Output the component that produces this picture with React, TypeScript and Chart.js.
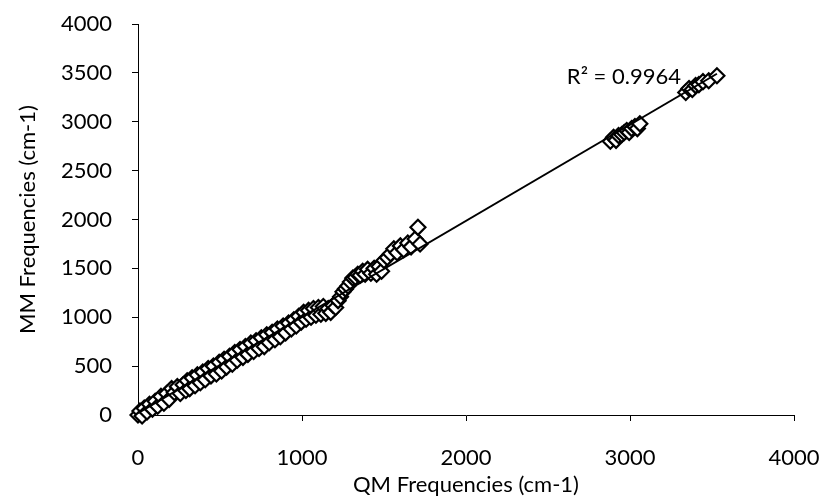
import { useEffect, useRef } from "react";
import { Chart, registerables } from "chart.js";

Chart.register(...registerables);

// QM (x) vs MM (y) vibrational frequencies, cm-1
const qmFreq = [
  0, 12, 25, 38, 55, 70, 88, 105, 120, 140, 158, 175, 190, 205, 222, 240, 258, 275, 292,
  300, 315, 330, 348, 362, 380, 395, 410, 428, 445, 460, 478, 495, 510, 525, 540, 558, 575,
  590, 605, 622, 640, 655, 670, 688, 705, 720, 738, 752, 770, 785, 800, 818, 835, 850, 868,
  885, 900, 918, 935, 950, 965, 980, 995,
  1010, 1025, 1040, 1055, 1070, 1085, 1100, 1115, 1130, 1145, 1160, 1175, 1190, 1205, 1220,
  1235, 1250, 1265, 1280, 1295,
  1310, 1325, 1340, 1355, 1370, 1385, 1400, 1420, 1440, 1455, 1470, 1485, 1500, 1520, 1540,
  1560, 1580, 1600, 1620, 1645, 1665, 1690, 1707, 1720,
  2880, 2900, 2915, 2930, 2950, 2965, 2980, 2995, 3010, 3030, 3045, 3060,
  3340, 3360, 3380, 3400, 3420, 3445, 3480, 3530,
];
const mmFreq = [
  0, 40, -10, 70, 30, 110, 60, 140, 90, 190, 120, 220, 160, 270, 230, 290, 220, 310, 250,
  350, 270, 380, 300, 410, 330, 440, 360, 475, 400, 500, 420, 540, 450, 570, 490, 600, 520,
  640, 560, 670, 590, 700, 620, 735, 650, 760, 680, 790, 700, 820, 740, 845, 770, 880, 800,
  910, 840, 940, 880, 975, 910, 1010, 950,
  1050, 980, 1070, 1000, 1090, 1020, 1100, 1030, 1110, 1040, 1090, 1050, 1120, 1100, 1170,
  1210, 1260, 1290, 1320, 1360,
  1400, 1410, 1440, 1430, 1470, 1440, 1490, 1450, 1500, 1440, 1520, 1470, 1580, 1610, 1650,
  1700, 1660, 1730, 1690, 1760, 1720, 1800, 1920, 1750,
  2800, 2840, 2810, 2860, 2870, 2890, 2910, 2890, 2930, 2950, 2930, 2980,
  3300, 3340, 3330, 3370, 3380, 3410, 3420, 3470,
];

const xTickStep = 1000;
const yTickStep = 500;
const axisMin = 0;
const axisMax = 4000;
const xTitle = "QM Frequencies (cm-1)";
const yTitle = "MM Frequencies (cm-1)";
const r2Label = "R² = 0.9964";
const r2Anchor = { x: 2615, y: 3455 };

const FONT = "Lato, 'Open Sans', sans-serif";

function linearFit(xs: number[], ys: number[]) {
  const n = xs.length;
  let sx = 0, sy = 0, sxx = 0, sxy = 0;
  for (let i = 0; i < n; i++) {
    sx += xs[i]; sy += ys[i]; sxx += xs[i] * xs[i]; sxy += xs[i] * ys[i];
  }
  const slope = (n * sxy - sx * sy) / (n * sxx - sx * sx);
  const intercept = (sy - slope * sx) / n;
  return { slope, intercept };
}

export default function App() {
  const ref = useRef<HTMLCanvasElement | null>(null);

  useEffect(() => {
    document.body.style.margin = "0";
    const canvas = ref.current;
    if (!canvas) return;

    const points = qmFreq.map((x, i) => ({ x, y: mmFreq[i] }));
    const { slope, intercept } = linearFit(qmFreq, mmFreq);
    const xMin = Math.min(...qmFreq);
    const xMax = Math.max(...qmFreq);
    const trend = [
      { x: xMin, y: slope * xMin + intercept },
      { x: xMax, y: slope * xMax + intercept },
    ];

    const r2Plugin = {
      id: "r2label",
      afterDatasetsDraw(chart: any) {
        const { ctx, scales } = chart;
        ctx.save();
        ctx.font = `22px ${FONT}`;
        ctx.fillStyle = "#000";
        ctx.textAlign = "left";
        ctx.textBaseline = "middle";
        ctx.fillText(
          r2Label,
          scales.x.getPixelForValue(r2Anchor.x),
          scales.y.getPixelForValue(r2Anchor.y)
        );
        ctx.restore();
      },
    };

    const chart = new Chart(canvas, {
      type: "scatter",
      data: {
        datasets: [
          {
            type: "line",
            data: trend,
            borderColor: "#000",
            borderWidth: 2,
            pointRadius: 0,
            fill: false,
            order: 0,
          } as any,
          {
            data: points,
            pointStyle: "rectRot",
            pointRadius: 7.5,
            pointBackgroundColor: "#fff",
            pointBorderColor: "#000",
            pointBorderWidth: 2.2,
            clip: false,
            order: 1,
          } as any,
        ],
      },
      options: {
        animation: false,
        responsive: false,
        layout: { padding: { top: 24, right: 29, left: 0, bottom: 0 } },
        plugins: {
          legend: { display: false },
          tooltip: { enabled: false },
        },
        scales: {
          x: {
            type: "linear",
            min: axisMin,
            max: axisMax,
            afterFit(scale: any) {
              scale.height = 81;
              scale.paddingLeft = 0;
              scale.paddingRight = 0;
            },
            ticks: {
              stepSize: xTickStep,
              color: "#000",
              padding: 24,
              font: { family: FONT, size: 22 },
              maxRotation: 0,
              callback: (v: any) => String(v),
            },
            grid: {
              display: true,
              drawOnChartArea: false,
              drawTicks: true,
              tickLength: 6,
              color: "#000",
            },
            border: { display: true, color: "#000", width: 1 },
            title: {
              display: true,
              text: xTitle,
              color: "#000",
              font: { family: FONT, size: 22, lineHeight: 1 },
              padding: { top: 0, bottom: 0 },
            },
          },
          y: {
            type: "linear",
            min: axisMin,
            max: axisMax,
            afterFit(scale: any) {
              scale.width = 138;
              scale.paddingTop = 0;
              scale.paddingBottom = 0;
            },
            ticks: {
              stepSize: yTickStep,
              color: "#000",
              padding: 20,
              font: { family: FONT, size: 22 },
              callback: (v: any) => String(v),
            },
            grid: {
              display: true,
              drawOnChartArea: false,
              drawTicks: true,
              tickLength: 6,
              color: "#000",
            },
            border: { display: true, color: "#000", width: 1 },
            title: {
              display: true,
              text: yTitle,
              color: "#000",
              font: { family: FONT, size: 22, lineHeight: 1 },
              padding: { top: 17, bottom: 0 },
            },
          },
        },
      },
      plugins: [r2Plugin],
    });

    return () => chart.destroy();
  }, []);

  return (
    <div style={{ width: 823, height: 496 }}>
      <canvas ref={ref} width={823} height={496} />
    </div>
  );
}
